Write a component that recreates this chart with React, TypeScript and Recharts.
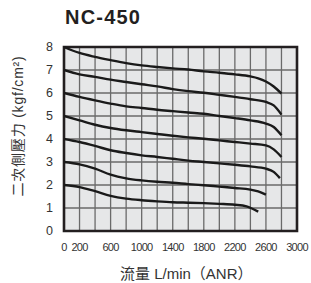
import React from "react";
import {
  LineChart,
  Line,
  XAxis,
  YAxis,
  CartesianGrid,
  ReferenceArea,
} from "recharts";

// x axis: flow in L/min (ANR), grid every 200
const xTicks = [0, 200, 400, 600, 800, 1000, 1200, 1400, 1600, 1800, 2000, 2200, 2400, 2600, 2800, 3000];
const xLabelled = [0, 200, 600, 1000, 1400, 1800, 2200, 2600, 3000];
const yTicks = [0, 1, 2, 3, 4, 5, 6, 7, 8];

// one curve per set pressure (kgf/cm2)
const flow8 = [0, 200, 400, 600, 800, 1000, 1200, 1400, 1600, 1800, 2000, 2200, 2400, 2500, 2600, 2700, 2800];
const press8 = [8.0, 7.74, 7.57, 7.43, 7.3, 7.2, 7.13, 7.07, 7.02, 6.94, 6.88, 6.81, 6.72, 6.64, 6.5, 6.28, 5.97];

const flow7 = [0, 200, 400, 600, 800, 1000, 1200, 1400, 1600, 1800, 2000, 2200, 2400, 2600, 2700, 2800];
const press7 = [7.0, 6.81, 6.7, 6.58, 6.48, 6.38, 6.29, 6.17, 6.08, 6.01, 5.92, 5.83, 5.73, 5.61, 5.46, 5.06];

const flow6 = [0, 200, 400, 600, 800, 1000, 1200, 1400, 1600, 1800, 2000, 2200, 2400, 2600, 2700, 2800];
const press6 = [6.0, 5.83, 5.68, 5.54, 5.42, 5.35, 5.27, 5.21, 5.15, 5.1, 5.0, 4.91, 4.81, 4.67, 4.52, 4.16];

const flow5 = [0, 200, 400, 600, 800, 1000, 1200, 1400, 1600, 1800, 2000, 2200, 2400, 2600, 2700, 2800];
const press5 = [5.0, 4.81, 4.62, 4.48, 4.38, 4.3, 4.22, 4.14, 4.07, 4.01, 3.94, 3.87, 3.8, 3.72, 3.55, 3.22];

const flow4 = [0, 200, 400, 600, 800, 1000, 1200, 1400, 1600, 1800, 2000, 2200, 2400, 2600, 2700, 2780];
const press4 = [4.0, 3.87, 3.7, 3.51, 3.39, 3.29, 3.22, 3.14, 3.06, 3.0, 2.94, 2.88, 2.81, 2.71, 2.57, 2.3];

const flow3 = [0, 200, 400, 600, 800, 1000, 1200, 1400, 1600, 1800, 2000, 2200, 2400, 2500, 2600];
const press3 = [3.0, 2.9, 2.71, 2.45, 2.29, 2.2, 2.14, 2.1, 2.04, 1.99, 1.93, 1.87, 1.8, 1.72, 1.58];

const flow2 = [0, 200, 400, 600, 800, 1000, 1200, 1400, 1600, 1800, 2000, 2200, 2350, 2500];
const press2 = [2.0, 1.91, 1.73, 1.53, 1.41, 1.34, 1.29, 1.25, 1.23, 1.21, 1.18, 1.14, 1.07, 0.84];

const curves = [
  { name: "8", flow: flow8, press: press8 },
  { name: "7", flow: flow7, press: press7 },
  { name: "6", flow: flow6, press: press6 },
  { name: "5", flow: flow5, press: press5 },
  { name: "4", flow: flow4, press: press4 },
  { name: "3", flow: flow3, press: press3 },
  { name: "2", flow: flow2, press: press2 },
];

const sans = '"Liberation Sans", Arial, "Noto Sans CJK TC", sans-serif';
const ink = "#231f20";

export default function App() {
  return (
    <div
      style={{
        position: "absolute",
        left: 0,
        top: 0,
        width: 311,
        height: 283,
        background: "#fff",
        fontFamily: sans,
      }}
    >
      <div
        style={{
          position: "absolute",
          left: 65,
          top: 7,
          fontSize: 20,
          lineHeight: "20px",
          fontWeight: "bold",
          letterSpacing: 1.2,
          color: ink,
          whiteSpace: "nowrap",
        }}
      >
        NC-450
      </div>
      <div
        style={{
          position: "absolute",
          left: 17.5 - 85,
          top: 126 - 8,
          width: 170,
          height: 16,
          lineHeight: "16px",
          fontSize: 14,
          letterSpacing: 0.8,
          textAlign: "center",
          color: "#333",
          transform: "rotate(-90deg)",
          whiteSpace: "nowrap",
        }}
      >
        二次側壓力 (kgf/cm²)
      </div>
      <div
        style={{
          position: "absolute",
          left: 120,
          top: 266,
          fontSize: 15,
          lineHeight: "16px",
          color: "#333",
          whiteSpace: "nowrap",
        }}
      >
        流量 L/min（ANR）
      </div>
      <LineChart
        width={311}
        height={283}
        margin={{ top: 47, right: 14, bottom: 22, left: 34 }}
        style={{ position: "absolute", left: 0, top: 0 }}
      >
        <CartesianGrid
          fill="#e6e7e8"
          fillOpacity={1}
          stroke="#6a6a6a"
          strokeWidth={1.3}
        />
        <XAxis
          type="number"
          dataKey="flow"
          domain={[0, 3000]}
          ticks={xTicks}
          interval={0}
          tickFormatter={(v: number) => (xLabelled.includes(v) ? String(v) : "")}
          tick={{ fill: "#333", fontSize: 11, letterSpacing: -0.7, fontFamily: sans }}
          tickLine={false}
          axisLine={false}
          tickMargin={6}
          height={30}
          allowDataOverflow
        />
        <YAxis
          type="number"
          domain={[0, 8]}
          ticks={yTicks}
          interval={0}
          tick={{ fill: "#333", fontSize: 12.5, fontFamily: sans }}
          tickLine={false}
          axisLine={false}
          tickMargin={5}
          width={30}
        />
        <ReferenceArea
          x1={0}
          x2={3000}
          y1={0}
          y2={8}
          fill="none"
          stroke={ink}
          strokeWidth={2.6}
          ifOverflow="visible"
        />
        {curves.map((c) => (
          <Line
            key={c.name}
            data={c.flow.map((f, i) => ({ flow: f, press: c.press[i] }))}
            dataKey="press"
            type="monotone"
            stroke="#1a1a1a"
            strokeWidth={2.4}
            dot={false}
            activeDot={false}
            isAnimationActive={false}
          />
        ))}
      </LineChart>
    </div>
  );
}
